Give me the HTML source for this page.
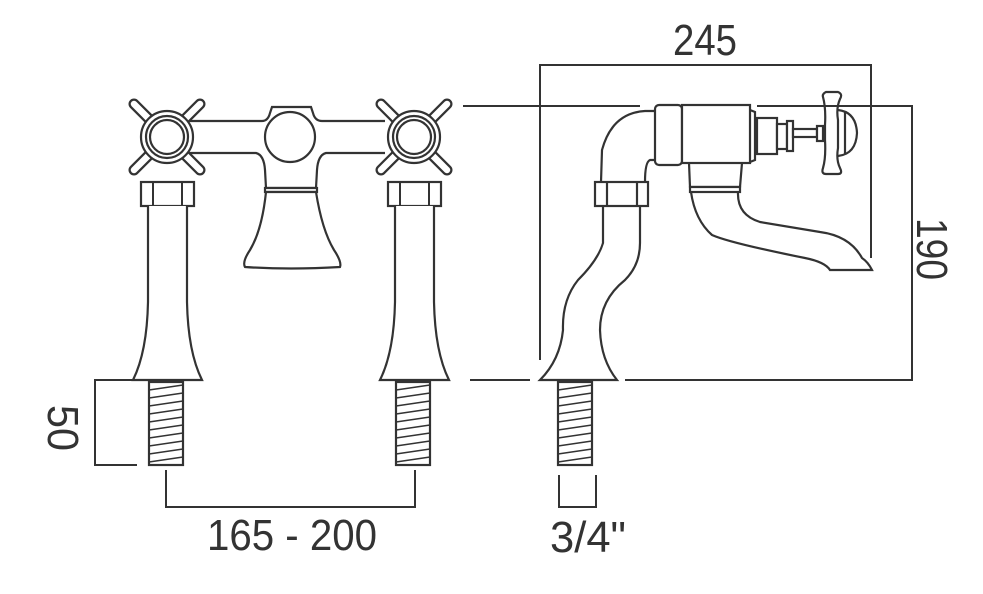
<!DOCTYPE html>
<html><head><meta charset="utf-8"><style>
html,body{margin:0;padding:0;background:#fff;}
svg{display:block;}
text{font-family:"Liberation Sans",sans-serif;fill:#333;}
</style></head><body>
<svg width="983" height="594" viewBox="0 0 983 594" xmlns="http://www.w3.org/2000/svg">
<defs>
<g id="thread">
<rect x="0" y="0" width="34" height="83" fill="#fff" stroke="#333" stroke-width="2.2"/>
<g stroke="#333" stroke-width="1.6">
<line x1="0" y1="8" x2="34" y2="3"/><line x1="0" y1="16" x2="34" y2="11"/><line x1="0" y1="24" x2="34" y2="19"/>
<line x1="0" y1="32" x2="34" y2="27"/><line x1="0" y1="40" x2="34" y2="35"/><line x1="0" y1="48" x2="34" y2="43"/>
<line x1="0" y1="56" x2="34" y2="51"/><line x1="0" y1="64" x2="34" y2="59"/><line x1="0" y1="72" x2="34" y2="67"/>
<line x1="0" y1="80" x2="34" y2="75"/>
</g>
</g>
<g id="cross">
<g stroke="#333" stroke-width="11" stroke-linecap="round"><line x1="-33" y1="-33" x2="33" y2="33"/><line x1="33" y1="-33" x2="-33" y2="33"/></g>
<g stroke="#fff" stroke-width="6.5" stroke-linecap="round"><line x1="-33" y1="-33" x2="33" y2="33"/><line x1="33" y1="-33" x2="-33" y2="33"/></g>
<circle r="26" fill="#fff" stroke="#333" stroke-width="2.2"/>
<circle r="21" fill="#fff" stroke="#333" stroke-width="2.2"/>
<circle r="17" fill="#fff" stroke="#333" stroke-width="2.2"/>
</g>
<g id="pillar">
<rect x="-26" y="0" width="53" height="24" fill="#fff" stroke="#333" stroke-width="2.2"/>
<line x1="-14" y1="0" x2="-14" y2="24" stroke="#333" stroke-width="2"/>
<line x1="15" y1="0" x2="15" y2="24" stroke="#333" stroke-width="2"/>
<path d="M-19 24 L-19 120 Q-20 170 -34 198 L35 198 Q21 170 20 120 L20 24" fill="#fff" stroke="#333" stroke-width="2.2"/>
<use href="#thread" x="-18" y="200"/>
</g>
</defs>
<g fill="none" stroke="#333" stroke-width="2.2">
<path d="M190 121 L262 121 Q268 121 270 113 L272 107 L311 107 L313 113 Q315 121 322 121 L385 121 M190 153 L256 153 Q264 155 265 170 L266 188 L316 188 L317 170 Q318 155 326 153 L385 153" fill="#fff"/>
<circle cx="290" cy="137" r="25" fill="#fff"/>
<rect x="265" y="188" width="52" height="4" fill="#fff"/>
<path d="M266 192 Q262 230 250 250 Q242 262 245 267 Q290 270 340 267 Q342 262 334 250 Q322 230 316 192 Z" fill="#fff"/>
</g>
<use href="#pillar" x="167" y="182"/>
<use href="#pillar" x="414" y="182"/>
<use href="#cross" x="167" y="137"/>
<use href="#cross" x="414" y="137"/>
<g fill="none" stroke="#333" stroke-width="2.2">
<path d="M655 111 L645 111 Q612 113 602 150 L601 182 M655 160 L650 160 Q645 162 645 182"/>
<rect x="655" y="105" width="27" height="60" rx="4" fill="#fff"/>
<rect x="682" y="105" width="68" height="58" fill="#fff"/>
<rect x="595" y="182" width="53" height="24" fill="#fff"/>
<line x1="607" y1="182" x2="607" y2="206"/><line x1="637" y1="182" x2="637" y2="206"/>
<path d="M603 206 L603 243 Q598 260 578 280 Q562 300 563 330 Q560 360 540 380 L617 380 Q601 360 600 330 Q600 300 625 280 Q640 265 640 243 L640 206"/>
<path d="M689 163 L690 187 L740 187 L742 163"/>
<rect x="690" y="187" width="50" height="5" fill="#fff"/>
<path d="M691 192 Q695 220 712 235 Q730 243 805 258 Q825 262 830 270 L872 270 Q868 262 862 258 Q850 236 820 232 L760 222 Q737 215 738 192"/>
<path d="M750 110 L755 112 L755 160 L750 162"/>
<rect x="757" y="118" width="20" height="36" fill="#fff"/>
<rect x="777" y="124" width="10" height="25" fill="#fff"/>
<rect x="787" y="121" width="6" height="30" fill="#fff"/>
<rect x="793" y="129" width="24" height="8" fill="#fff"/>
<rect x="817" y="126" width="6" height="15" fill="#fff"/>
<path d="M838 110 Q856 112 857 133 Q856 154 838 156"/>
<path d="M823 97 Q822 94 826 92 L838 92 Q843 94 840 99 Q836 108 838 120 L838 148 Q836 160 840 168 Q843 174 838 174 L826 174 Q821 174 823 168 Q826 158 825 140 L825 125 Q826 108 823 97 Z" fill="#fff"/>
<line x1="845" y1="112" x2="845" y2="154"/>
</g>
<use href="#thread" x="558" y="382"/>
<g fill="none" stroke="#333" stroke-width="2">
<path d="M540 360 L540 65 L871 65 L871 258"/>
<path d="M463 106 L640 106 M757 106 L912 106 L912 380 L625 380 M470 380 L530 380"/>
<path d="M137 380 L95 380 L95 465 L137 465"/>
<path d="M166 470 L166 507 L415 507 L415 470"/>
<path d="M559 475 L559 507 L596 507 L596 475"/>
</g>
<g font-size="44">
<text x="673" y="55" textLength="64" lengthAdjust="spacingAndGlyphs">245</text>
<text x="207" y="550" textLength="170" lengthAdjust="spacingAndGlyphs">165 - 200</text>
<text x="550" y="552" textLength="76" lengthAdjust="spacingAndGlyphs">3/4"</text>
<text transform="translate(48 405) rotate(90)" x="0" y="0" textLength="46" lengthAdjust="spacingAndGlyphs">50</text>
<text transform="translate(917 218) rotate(90)" x="0" y="0" textLength="62" lengthAdjust="spacingAndGlyphs">190</text>
</g>
</svg>
</body></html>
